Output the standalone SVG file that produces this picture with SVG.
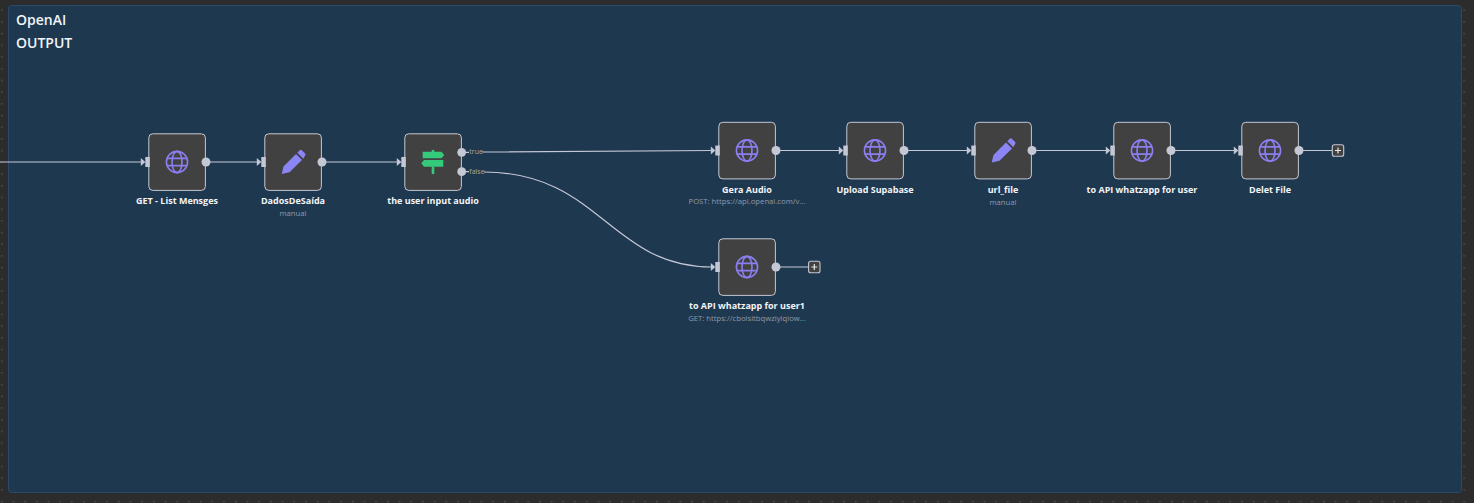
<svg xmlns="http://www.w3.org/2000/svg" width="1474" height="503" viewBox="0 0 1474 503">
<style>
text{font-family:"Open Sans","Noto Sans","Liberation Sans",sans-serif}
.t{font-size:9px;font-weight:700;fill:#f4f4f6;text-anchor:middle}
.s{font-size:7.700px;fill:#8f9bab;text-anchor:middle}
.h{font-size:14px;font-weight:600;fill:#f2f5f9}
.b{font-size:7px;fill:#b5a98e}
.box{fill:#414141;stroke:#c4c8d4;stroke-width:1}
.c{fill:none;stroke:#c4c8d4;stroke-width:1.200}
.o{fill:#c4c8d4}
.g{fill:none;stroke:#8b7ff0;stroke-width:1.600}
.pl{fill:#414141;stroke:#c4c8d4;stroke-width:1.100}
.pp{stroke:#e6e6e6;stroke-width:1.200;fill:none}
</style>
<defs>
<pattern id="dots" width="11.700" height="11.700" patternUnits="userSpaceOnUse" x="-4" y="4.500"><rect x="5" y="5" width="1.400" height="1.400" fill="#555"/></pattern>
<g id="port"><path d="M-7.500 -4L-3 0L-7.500 4z" class="o"/><rect x="-3" y="-5" width="4.500" height="10" class="o"/></g>
<g id="body"><rect x="0.800" y="0.800" width="56.600" height="56.600" rx="4" class="box"/><use href="#port" x="0.300" y="29"/><circle cx="58" cy="29" r="4.500" class="o"/></g>
<g id="globe"><circle cx="29" cy="29" r="10.600" class="g"/><ellipse cx="29" cy="29" rx="5" ry="10.600" class="g"/><path d="M18.800 25.400H39.200M18.800 32.600H39.200" class="g"/></g>
<g id="pencil"><path d="M17.700 41L19.500 33.500L32 21L38 27L25.500 39.300z" fill="#8b85f5"/><path d="M33.300 19.700L35.700 17.300Q36.800 16.300 37.900 17.300L41.100 20.500Q42 21.600 41.100 22.600L39.300 25.700z" fill="#8b85f5"/></g>
<g id="addbtn"><rect x="-5.700" y="-5.700" width="11.400" height="11.400" rx="2" class="pl"/><path d="M-3 0H3M0 -3V3" class="pp"/></g>
</defs>
<rect width="1474" height="503" fill="#2c2c2c"/>
<rect width="1474" height="503" fill="url(#dots)"/>
<rect x="8.500" y="5.500" width="1453" height="487" rx="3" fill="#1e3850" stroke="#2a4a6b"/>
<text class="h" x="16" y="24.500">OpenAI</text>
<text class="h" x="16" y="48">OUTPUT</text>
<g id="connectors">
<path class="c" d="M0 162H142"/>
<path class="c" d="M206 162H258"/>
<path class="c" d="M322 162H398"/>
<path class="c" d="M466 152.300H469M482 152L712 150.500"/>
<path class="c" d="M466 171.700H469M484 172C600 172 610 267 712 267"/>
<path class="c" d="M776 150.500H840"/>
<path class="c" d="M904 150.500H968"/>
<path class="c" d="M1032 150.500H1107"/>
<path class="c" d="M1171 150.500H1235"/>
<path class="c" d="M1299 150.500H1332"/>
<path class="c" d="M776 267H808.500"/>
</g>
<g id="n1" transform="translate(148 133)"><use href="#body"/><use href="#globe"/><text class="t" x="29" y="71">GET - List Mensges</text></g>
<g id="n2" transform="translate(264 133)"><use href="#body"/><use href="#pencil"/><text class="t" x="29" y="71">DadosDeSaída</text><text class="s" x="29" y="83">manual</text></g>
<g id="n3" transform="translate(404 133)"><rect x="0.800" y="0.800" width="56.600" height="56.600" rx="4" class="box"/><use href="#port" x="0.300" y="29"/><circle cx="57.700" cy="19.300" r="4.400" class="o"/><circle cx="57.700" cy="38.700" r="4.400" class="o"/>
<path d="M18.700 18.700H37.500L40.300 22L37.500 25.300H18.700zM20 27H39.300V33.700H20L17.300 30.300z" fill="#35c97b"/><rect x="27.700" y="17" width="2.600" height="2" fill="#35c97b"/><rect x="27.700" y="33.700" width="2.600" height="7.300" fill="#35c97b"/>
<text class="t" x="29" y="71">the user input audio</text></g>
<text class="b" x="469.300" y="154">true</text>
<text class="b" x="469.300" y="174">false</text>
<g id="n4" transform="translate(718 121.500)"><use href="#body"/><use href="#globe"/><text class="t" x="29" y="71">Gera Audio</text><text class="s" x="29" y="82.500">POST: https://api.openai.com/v...</text></g>
<g id="n5" transform="translate(846 121.500)"><use href="#body"/><use href="#globe"/><text class="t" x="29" y="71">Upload Supabase</text></g>
<g id="n6" transform="translate(974 121.500)"><use href="#body"/><use href="#pencil"/><text class="t" x="29" y="71">url_file</text><text class="s" x="29" y="83.500">manual</text></g>
<g id="n7" transform="translate(1113 121.500)"><use href="#body"/><use href="#globe"/><text class="t" x="29" y="71">to API whatzapp for user</text></g>
<g id="n8" transform="translate(1241 121.500)"><use href="#body"/><use href="#globe"/><text class="t" x="29" y="71">Delet File</text></g>
<g id="n9" transform="translate(718 238)"><use href="#body"/><use href="#globe"/><text class="t" x="29" y="71">to API whatzapp for user1</text><text class="s" x="29" y="82.500">GET: https://cbolsitbqwziylqiow...</text></g>
<g id="add1" transform="translate(1338 150.500)"><use href="#addbtn"/></g>
<g id="add2" transform="translate(814.300 267)"><use href="#addbtn"/></g>
</svg>
